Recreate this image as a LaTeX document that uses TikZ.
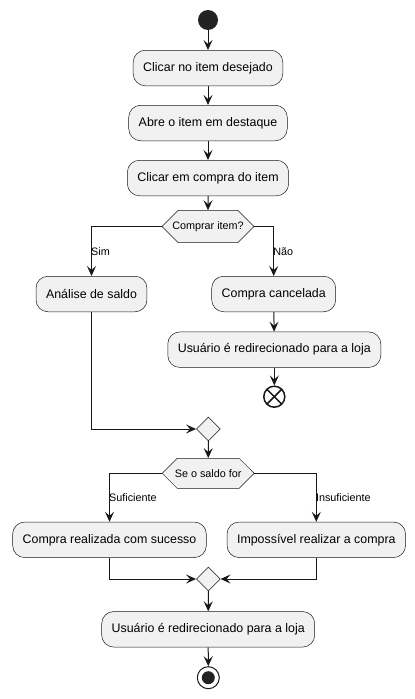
\documentclass[tikz,border=0pt]{standalone}
\usepackage{fontspec}
\setmainfont{Liberation Sans}
\usetikzlibrary{arrows.meta,shapes.misc,shapes.geometric}
\definecolor{caixa}{HTML}{F1F1F1}
\definecolor{linha}{HTML}{181818}
\definecolor{cheio}{HTML}{222222}

\begin{document}
\begin{tikzpicture}[
    x=1pt, y=-1pt,
    atividade/.style={
        rectangle,
        rounded corners=12pt,
        draw=linha,
        line width=0.5pt,
        fill=caixa,
        inner xsep=10pt,
        minimum height=35.5pt,
        align=center,
        font=\fontsize{12.4}{14}\selectfont
    },
    decisao/.style={
        chamfered rectangle,
        chamfered rectangle xsep=10pt,
        chamfered rectangle ysep=11pt,
        draw=linha,
        line width=0.5pt,
        fill=caixa,
        minimum width=92pt,
        minimum height=22pt,
        inner sep=0pt,
        font=\fontsize{10.8}{12}\selectfont
    },
    juncao/.style={
        diamond,
        draw=linha,
        line width=0.5pt,
        fill=caixa,
        minimum width=24pt,
        minimum height=24pt,
        inner sep=0pt
    },
    seta/.style={
        -{Stealth[length=10pt,width=9pt,inset=4pt]},
        line width=1pt,
        draw=linha
    },
    rotulo/.style={
        anchor=west,
        inner sep=0pt,
        xshift=-0.8pt,
        font=\fontsize{10.8}{12}\selectfont
    }
]
\useasboundingbox (0,0) rectangle (415,699);

% Inicio
\node[circle, fill=cheio, minimum size=20pt, inner sep=0pt] (inicio) at (208,20) {};

% Atividades iniciais
\node[atividade] (clicar) at (208,68) {Clicar no item desejado};
\node[atividade] (abre) at (208,123) {Abre o item em destaque};
\node[atividade] (compra) at (208,178) {Clicar em compra do item};

% Decisao: comprar
\node[decisao] (comprar) at (208,226.5) {Comprar item?};

\node[atividade] (saldo) at (91.5,294) {Análise de saldo};
\node[atividade] (cancelada) at (273.7,294) {Compra cancelada};
\node[atividade] (redirA) at (274.3,349.7) {Usuário é redirecionado para a loja};

% Fim do fluxo cancelado
\node[circle, draw=linha, line width=1.5pt, fill=white, minimum size=21pt, inner sep=0pt,
    path picture={\draw[linha, line width=1.5pt]
        (path picture bounding box.north west) -- (path picture bounding box.south east)
        (path picture bounding box.north east) -- (path picture bounding box.south west);}
] (cancelado) at (274.3,396.7) {};

\node[juncao] (junta) at (208.3,429) {};

% Decisao: saldo
\node[decisao] (saldofor) at (208.2,473.3) {Se o saldo for};

\node[atividade] (sucesso) at (109.5,539.8) {Compra realizada com sucesso};
\node[atividade] (falha) at (316.3,539.8) {Impossível realizar a compra};

\node[juncao] (juntaB) at (208.3,579) {};

\node[atividade] (redirB) at (208.2,629.3) {Usuário é redirecionado para a loja};

% Fim
\node[circle, draw=linha, line width=1pt, fill=white, minimum size=22pt, inner sep=0pt,
    path picture={\fill[cheio] (path picture bounding box.center) circle (6.5pt);}
] (fim) at (208.3,677.7) {};

% Setas
\draw[seta] (inicio) -- (clicar);
\draw[seta] (clicar) -- (abre);
\draw[seta] (abre) -- (compra);
\draw[seta] (compra) -- (comprar);
\draw[seta] (comprar.west) -| node[rotulo, pos=0.75] {Sim} (saldo);
\draw[seta] (comprar.east) -| node[rotulo, pos=0.75] {Não} (cancelada);
\draw[seta] (cancelada) -- (redirA);
\draw[seta] (redirA) -- (cancelado);
\draw[seta] (saldo) |- (junta);
\draw[seta] (junta) -- (saldofor);
\draw[seta] (saldofor.west) -| node[rotulo, pos=0.75] {Suficiente} (sucesso);
\draw[seta] (saldofor.east) -| node[rotulo, pos=0.75] {Insuficiente} (falha);
\draw[seta] (sucesso) |- (juntaB);
\draw[seta] (falha) |- (juntaB);
\draw[seta] (juntaB) -- (redirB);
\draw[seta] (redirB) -- (fim);

\end{tikzpicture}
\end{document}
